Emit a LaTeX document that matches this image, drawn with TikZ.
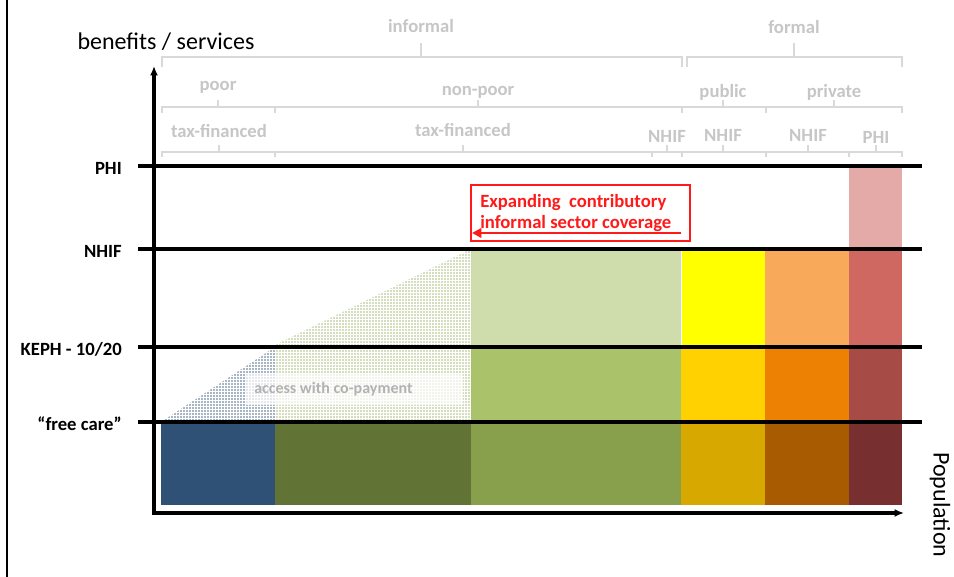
\documentclass[tikz,border=0pt]{standalone}
\usepackage{fontspec}
\setmainfont{Carlito}
\usetikzlibrary{patterns.meta,arrows.meta}

\definecolor{poorblue}{HTML}{2F5175}
\definecolor{olivedark}{HTML}{617435}
\definecolor{olivemid}{HTML}{88A04B}
\definecolor{olivelight}{HTML}{AAC36B}
\definecolor{olivepale}{HTML}{CEDDAB}
\definecolor{pubdark}{HTML}{D6A800}
\definecolor{pubmid}{HTML}{FFD100}
\definecolor{publight}{HTML}{FFFF00}
\definecolor{privdark}{HTML}{A85B00}
\definecolor{privmid}{HTML}{EC8104}
\definecolor{privlight}{HTML}{F9A95A}
\definecolor{phidark}{HTML}{782F2F}
\definecolor{phimid}{HTML}{A64B45}
\definecolor{philight}{HTML}{CF6861}
\definecolor{phipale}{HTML}{E4AAA7}
\definecolor{hdrgray}{HTML}{C6C6C6}
\definecolor{hdrline}{HTML}{D9D9D9}
\definecolor{expandred}{HTML}{FF1A1A}

\tikzdeclarepattern{name=finedots,type=uncolored,
    bounding box={(0,0) and (2.25pt,2.25pt)},tile size={(2.25pt,2.25pt)},
    code={\fill (0.3pt,0.3pt) rectangle (1.6pt,1.6pt);}}

\begin{document}
\begin{tikzpicture}[x=0.75pt,y=-0.75pt,
                    hdr/.style={draw=hdrline,line width=1.3pt},
                    hdrtext/.style={text=hdrgray,font=\fontsize{14}{16}\selectfont\bfseries,inner sep=0pt},
                    lvltext/.style={anchor=east,font=\fontsize{14}{16}\selectfont\bfseries,inner sep=0pt},
                    lvlline/.style={line width=2.4pt},
                    axis/.style={line width=2.4pt,-{Latex[length=7pt,width=6pt]}}]
    \useasboundingbox (0,0) rectangle (954,577);
    \draw [line width=1.5pt] (7,0) -- (7,577);

    % bars
    \fill [poorblue]   (161,422) rectangle (275,505);
    \fill [olivedark]  (275,422) rectangle (471,505);
    \fill [olivemid]   (471,422) rectangle (681,505);
    \fill [olivelight] (471,347) rectangle (681,422);
    \fill [olivepale]  (471,249) rectangle (681,347);
    \fill [pubdark]    (681,422) rectangle (765,505);
    \fill [pubmid]     (681,347) rectangle (765,422);
    \fill [publight]   (682,249) rectangle (765,347);
    \fill [privdark]   (765,422) rectangle (849,505);
    \fill [privmid]    (765,347) rectangle (849,422);
    \fill [privlight]  (765,249) rectangle (849,347);
    \fill [phidark]    (849,422) rectangle (902,505);
    \fill [phimid]     (849,347) rectangle (902,422);
    \fill [philight]   (849,249) rectangle (902,347);
    \fill [phipale]    (849,166) rectangle (902,249);

    % co-payment wedge
    \fill [pattern=finedots,pattern color=poorblue] (161,422) -- (275,422) -- (275,347) -- cycle;
    \fill [pattern=finedots,pattern color=olivemid!85] (275,422) -- (471,422) -- (471,249) -- (275,345) -- cycle;
    \fill [white,opacity=0.7] (245,373) rectangle (463,405);
    \node [hdrtext,anchor=west,font=\fontsize{12}{14}\selectfont\bfseries,text=black!30] (copay) at (254,389) {access with co-payment};

    % levels
    \foreach \y/\name/\txt in {166/phi/PHI,249/nhif/NHIF,347/keph/{KEPH - 10/20},422/free/“free care”} {
        \node [lvltext] (\name) at (122,\y+2) {\txt};
        \draw [lvlline] (138,\y) -- (922,\y);
    }

    % axes
    \coordinate (origin) at (154,514);
    \coordinate (ytip) at (154,66);
    \coordinate (xstart) at (152,513);
    \coordinate (xtip) at (904,513);
    \draw [axis] (origin) -- (ytip);
    \draw [axis] (xstart) -- (xtip);
    \node [font=\fontsize{18}{20}\selectfont,inner sep=0pt] (benefits) at (166,42) {benefits / services};
    \node [font=\fontsize{18}{20}\selectfont,inner sep=0pt,rotate=-90] (population) at (940,505) {Population};

    % expanding coverage
    \node [draw=expandred,line width=0.8pt,minimum width=219*0.75pt,minimum height=56*0.75pt,inner sep=0pt] (expandbox) at (580.5,213) {};
    \node [anchor=west,align=left,text=expandred,font=\fontsize{14}{16}\selectfont\bfseries,inner sep=0pt] (expand) at (480,213) {Expanding\ \ contributory\\informal sector coverage};
    \coordinate (arrowstart) at (681,233);
    \coordinate (arrowend) at (472,233);
    \draw [expandred,line width=2pt,-{Triangle[length=7pt,width=7pt]}] (arrowstart) -- (arrowend);

    % header brackets, informal / formal
    \draw [hdr] (162,67) -- (162,57) -- (682,57) -- (682,67);
    \draw [hdr] (687,67) -- (687,57) -- (902,57) -- (902,67);
    \draw [hdr] (421,57) -- (421,43);
    \draw [hdr] (794,57) -- (794,43);
    \node [hdrtext] (informal) at (421,26) {informal};
    \node [hdrtext] (formal) at (794,27) {formal};

    % poor / non-poor / public / private
    \draw [hdr] (162,113) -- (162,107) -- (902,107) -- (902,113);
    \foreach \x in {275,682,766} \draw [hdr] (\x,107) -- (\x,113);
    \foreach \x in {218,478,723,834} \draw [hdr] (\x,107) -- (\x,100);
    \node [hdrtext] (poor) at (218,87) {poor};
    \node [hdrtext] (nonpoor) at (478,92) {non-poor};
    \node [hdrtext] (public) at (723,92) {public};
    \node [hdrtext] (private) at (834,92) {private};

    % financing
    \draw [hdr] (162,157) -- (162,152) -- (902,152) -- (902,157);
    \foreach \x in {275,652,682,766,849} \draw [hdr] (\x,152) -- (\x,157);
    \foreach \x in {219,463,667,723,808,876} \draw [hdr] (\x,152) -- (\x,145);
    \node [hdrtext] (taxpoor) at (219,131) {tax-financed};
    \node [hdrtext] (taxnonpoor) at (463,130) {tax-financed};
    \node [hdrtext] (nhifinf) at (667,136) {NHIF};
    \node [hdrtext] (nhifpub) at (723,135) {NHIF};
    \node [hdrtext] (nhifpriv) at (808,135) {NHIF};
    \node [hdrtext] (phipriv) at (876,137) {PHI};
\end{tikzpicture}
\end{document}
